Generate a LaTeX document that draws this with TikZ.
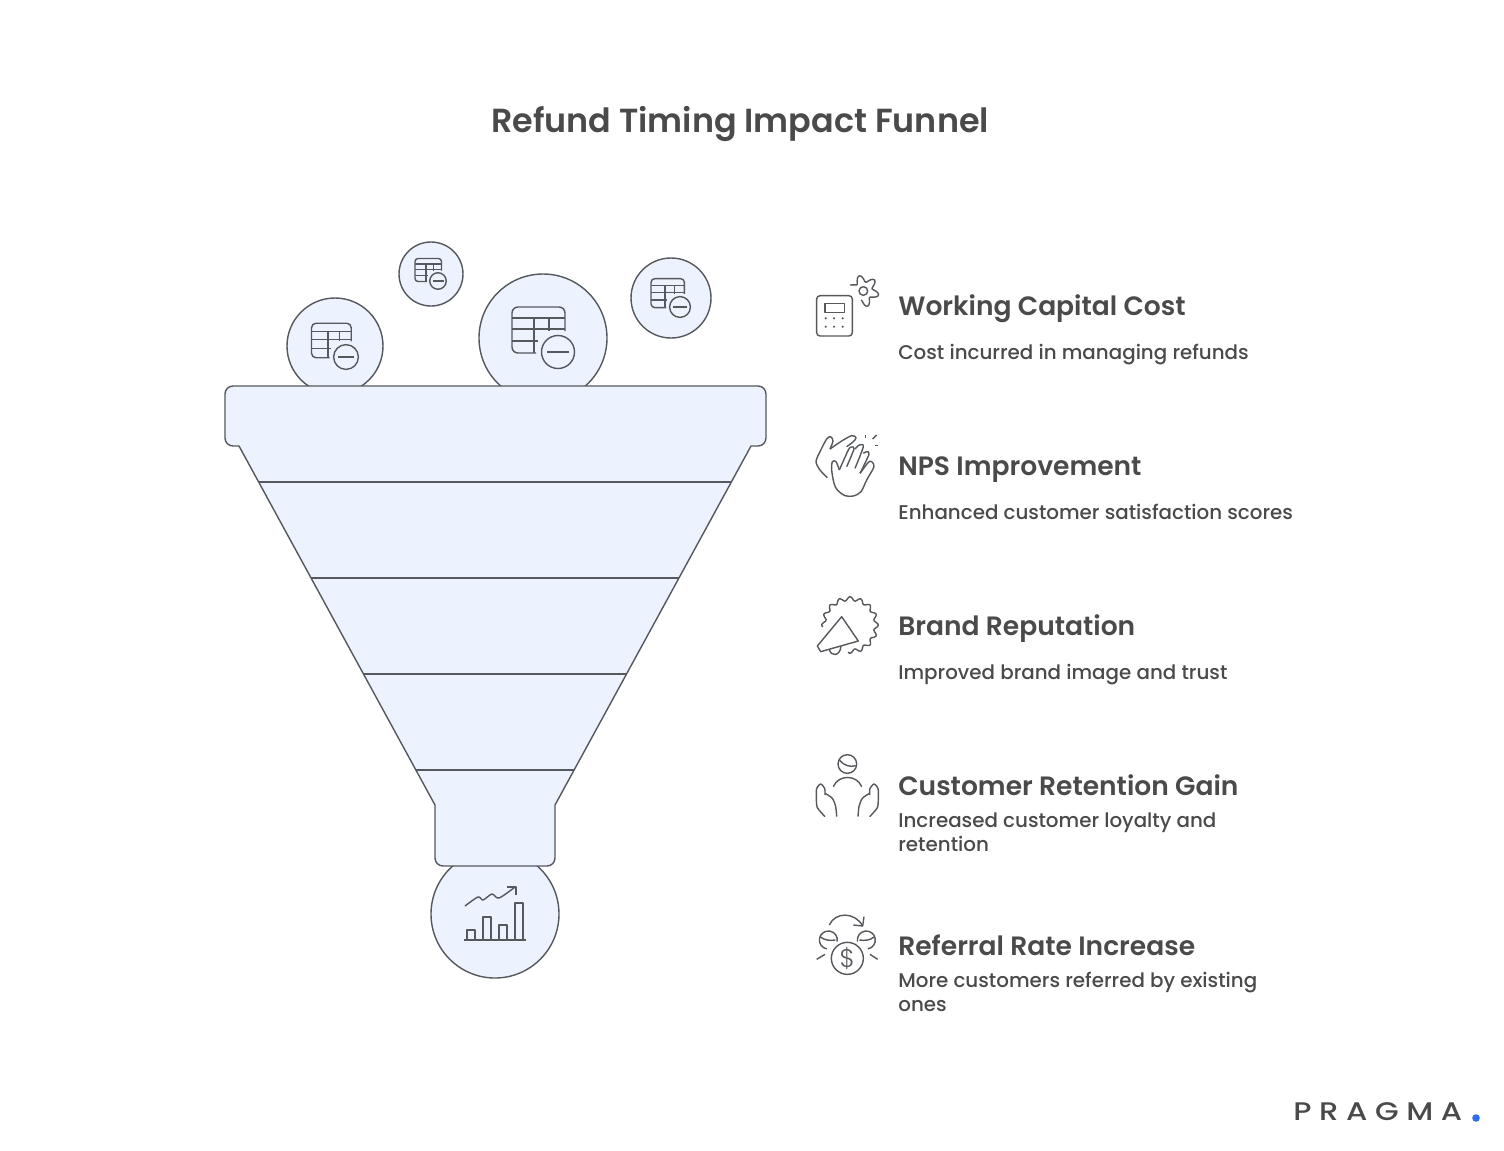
\documentclass[tikz,border=0pt]{standalone}
\usepackage{fontspec}
\setmainfont{Poppins Medium}[BoldFont={Poppins SemiBold}]
\newfontfamily\logofont[LetterSpace=30,FakeStretch=1.2]{Poppins Medium}
\newfontfamily\iconfont{Poppins Light}
\usepackage{xcolor}
\definecolor{inkgray}{HTML}{4A4A4A}
\definecolor{iconline}{HTML}{55585C}
\definecolor{paleblue}{HTML}{ECF2FE}
\definecolor{dotblue}{HTML}{2F6FED}
\tikzset{
    outline/.style={draw=iconline, line width=0.8pt, line join=round},
    bubble/.style={outline, fill=paleblue},
    heading/.style={anchor=base west, inner sep=0pt, text=inkgray, font=\fontsize{15.1}{18}\selectfont\bfseries},
    detail/.style={anchor=base west, inner sep=0pt, text=inkgray, align=left, font=\fontsize{11.3}{13.66}\selectfont},
    tableicon/.pic={
        \draw[outline] (-22,1) -- (-40,1) to[out=180,in=-90] (-46,-5) -- (-46,-39) to[out=90,in=180] (-40,-45) -- (1,-45) to[out=0,in=90] (7,-39) -- (7,-21);
        \draw[outline] (-46,-34) -- (7,-34); % header row
        \draw[outline] (-46,-23) -- (7,-23);
        \draw[outline] (-46,-11) -- (-20,-11);
        \draw[outline] (-24,-34) -- (-24,1); % columns
        \draw[outline] (-9,-34) -- (-9,-21);
        \draw[outline] (0,0) circle (16.5); % minus badge
        \draw[outline] (-11,0) -- (11,0);
    }
}
\begin{document}
\begin{tikzpicture}[x=0.02cm, y=-0.02cm]
    \useasboundingbox (0,0) rectangle (1504,1150);

    \node[anchor=base, text=inkgray, font=\fontsize{19}{23}\selectfont\bfseries] (title) at (740,132) {Refund Timing Impact Funnel};

    % Draw the bubbles above and below the funnel
    \draw[bubble] (335,346) circle (48);
    \draw[bubble] (431,274) circle (32);
    \draw[bubble] (543,338) circle (64);
    \draw[bubble] (671,298) circle (40);
    \draw[bubble] (495,914) circle (64);

    \pic[transform shape, scale=0.75] at (346,357) {tableicon};
    \pic[transform shape, scale=0.5] at (438,281) {tableicon};
    \pic at (558,352) {tableicon};
    \pic[transform shape, scale=0.63] at (680,307) {tableicon};

    % Draw the funnel body
    \draw[bubble] (233,386) -- (758,386) to[out=0,in=90] (766,394) -- (766,438) to[out=-90,in=0] (758,446) -- (751,446)
        -- (555,805) -- (555,858) to[out=-90,in=0] (547,866) -- (443,866) to[out=180,in=-90] (435,858) -- (435,805)
        -- (239,446) -- (233,446) to[out=180,in=-90] (225,438) -- (225,394) to[out=90,in=180] (233,386) -- cycle;
    \foreach \yband/\xleft/\xright in {482/259/731, 578/311/679, 674/364/626, 770/416/574}
        \draw[outline] (\xleft,\yband) -- (\xright,\yband); % funnel bands

    % Draw the chart in the bottom bubble
    \draw[outline] (464,940) -- (526,940); % axis
    \foreach \xbar/\ybar in {467/930, 483/917, 499/925, 515/903}
        \draw[outline] (\xbar,940) -- (\xbar,\ybar) -- (\xbar+8,\ybar) -- (\xbar+8,940);
    \draw[outline] plot[smooth, tension=0.5] coordinates {(465,906) (478,897) (483,900) (492,894) (499,898) (515,887)};
    \draw[outline] (507,887) -- (516,887) -- (516,895); % arrow head

    % Working capital icon
    \begin{scope}[shift={(800,265)}, scale=1/3]
        \draw[outline, rounded corners=1.9pt] (50,92) rectangle (157,213);
        \draw[outline] (75,115) rectangle (133,142);
        \foreach \xdot in {77,102,128}
            \foreach \ydot in {160,185}
                \fill[iconline] (\xdot,\ydot) circle (3.5);
        \draw[outline] (190,78) circle (13);
        \draw[outline] plot[smooth, samples=60, domain=257:516] ({190+(37+10*cos(6*(\x-45)))*cos(\x)},{78-(37+10*cos(6*(\x-45)))*sin(\x)});
    \end{scope}

    % Clapping hands icon
    \begin{scope}[shift={(800,265)}, scale=1/3]
        \draw[outline] plot[smooth, tension=0.5] coordinates {(82,638) (60,615) (48,590) (60,560) (80,522) (92,515) (99,528) (90,552)};
        \draw[outline] plot[smooth, tension=0.5] coordinates {(90,552) (125,528) (155,512) (168,518) (160,530) (140,545)};
        \draw[outline] plot[smooth, tension=0.5] coordinates {(118,615) (108,590) (97,590) (95,615) (102,655) (112,675) (135,692) (160,693) (183,680) (200,645) (222,605) (215,590) (205,592) (180,625)};
        \draw[outline] plot[smooth, tension=0.5] coordinates {(118,615) (145,555) (155,546) (162,552) (140,605)};
        \draw[outline] plot[smooth, tension=0.5] coordinates {(165,552) (178,540) (190,545) (165,610)};
        \draw[outline] plot[smooth, tension=0.5] coordinates {(190,565) (200,560) (207,568) (180,625)};
        \draw[outline] (197,510) -- (197,520); % claps
        \draw[outline] (218,522) -- (230,510);
        \draw[outline] (224,542) -- (235,542);
    \end{scope}

    % Megaphone icon
    \begin{scope}[shift={(800,585)}, scale=1/3]
        \draw[outline] plot[smooth, samples=100, domain=-94:184] ({150+(79+6*cos(16*\x))*cos(\x)},{120-(79+6*cos(16*\x))*sin(\x)});
        \draw[outline] (52,183) -- (125,95) -- (175,168) -- (62,200) -- cycle;
        \draw[outline] (88,193) .. controls (92,215) and (120,215) .. (123,184);
    \end{scope}

    % Customer icon
    \begin{scope}[shift={(800,585)}, scale=1/3]
        \draw[outline] (142,537) circle (28);
        \draw[outline] (118,525) .. controls (130,540) and (150,548) .. (167,542);
        \draw[outline] (100,605) .. controls (115,568) and (170,568) .. (185,605);
        \foreach \xflip in {1,-1} {
            \begin{scope}[shift={(142,0)}, xscale=\xflip]
                \draw[outline] plot[smooth, tension=0.4] coordinates {(-67,695) (-90,668) (-93,640) (-92,610) (-80,597) (-68,610) (-67,630)};
                \draw[outline] plot[smooth, tension=0.5] coordinates {(-67,625) (-45,640) (-35,665) (-32,695)};
            \end{scope}
        }
    \end{scope}

    % Referral icon
    \begin{scope}[shift={(800,900)}, scale=1/3]
        \draw[outline] (142,175) circle (48);
        \node[text=iconline, font=\fontsize{14.5}{16}\selectfont\iconfont] (dollar) at (142,175) {\$};
        \draw[outline] (88,75) .. controls (105,35) and (165,35) .. (188,78);
        \draw[outline] (160,75) -- (188,78) -- (192,50); % arrow head
        \draw[outline] (85,120) ++(100:27) arc[start angle=100, end angle=370, radius=27];
        \draw[outline] (60,110) .. controls (75,122) and (90,122) .. (106,120);
        \draw[outline] (199,120) ++(80:27) arc[start angle=80, end angle=-190, radius=27];
        \draw[outline] (224,110) .. controls (209,122) and (194,122) .. (178,120);
        \draw[outline] (50,178) -- (75,163);
        \draw[outline] (210,163) -- (233,178);
    \end{scope}

    % Legend texts
    \node[heading] (costhead) at (898,315) {Working Capital Cost};
    \node[detail] (costtext) at (898,359) {Cost incurred in managing refunds};
    \node[heading] (npshead) at (898,475) {NPS Improvement};
    \node[detail] (npstext) at (898,519) {Enhanced customer satisfaction scores};
    \node[heading] (brandhead) at (898,635) {Brand Reputation};
    \node[detail] (brandtext) at (898,679) {Improved brand image and trust};
    \node[heading] (retainhead) at (898,795) {Customer Retention Gain};
    \node[detail] (retaintext) at (898,851) {Increased customer loyalty and\\retention};
    \node[heading] (referhead) at (898,955) {Referral Rate Increase};
    \node[detail] (refertext) at (898,1011) {More customers referred by existing\\ones};

    % Logo
    \node[anchor=base west, inner sep=0pt, text=inkgray, font=\fontsize{14.5}{16}\selectfont\logofont] (logo) at (1293,1120) {PRAGMA};
    \fill[dotblue] (1476,1118) circle (3.8);
\end{tikzpicture}
\end{document}
